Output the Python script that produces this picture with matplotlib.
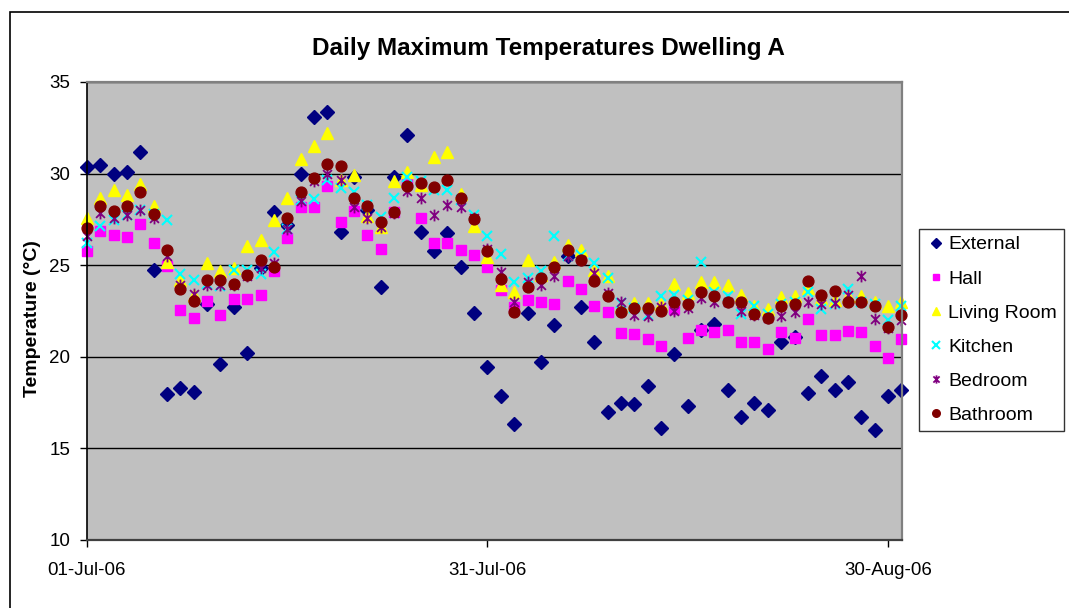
import matplotlib
matplotlib.use("Agg")
import numpy as np
import pandas as pd
from matplotlib import pyplot as plt
from matplotlib.path import Path
from matplotlib.patches import Rectangle

plt.rcParams['font.family'] = ['Liberation Sans', 'DejaVu Sans']

# daily maxima, 1 Jul - 31 Aug 2006 (deg C)
days = pd.date_range("2006-07-01", "2006-08-31", freq="D")

external = [30.35, 30.45, 30.0, 30.1, 31.2, 24.75, 17.95, 18.3, 18.1, 22.9,
            19.6, 22.7, 20.2, 24.85, 27.9, 27.2, 30.0, 33.1, 33.35, 26.8,
            29.8, 28.0, 23.8, 29.8, 32.1, 26.8, 25.8, 26.75, 24.9, 22.4,
            19.45, 17.85, 16.35, 22.4, 19.7, 21.75, 25.5, 22.7, 20.8, 17.0,
            17.5, 17.45, 18.4, 16.1, 20.15, 17.3, 21.45, 21.8, 18.2, 16.7,
            17.5, 17.1, 20.8, 21.1, 18.0, 18.95, 18.2, 18.65, 16.7, 16.0,
            17.85, 18.2]
hall = [25.8, 26.85, 26.65, 26.55, 27.25, 26.2, 24.95, 22.55, 22.1, 23.05,
        22.3, 23.15, 23.15, 23.4, 24.7, 26.5, 28.15, 28.15, 29.3, 27.35,
        27.95, 26.65, 25.9, 27.9, 29.5, 27.6, 26.2, 26.2, 25.85, 25.55,
        24.9, 23.65, 22.7, 23.1, 23.0, 22.9, 24.15, 23.7, 22.8, 22.45,
        21.3, 21.25, 20.95, 20.6, 22.6, 21.05, 21.45, 21.35, 21.45, 20.8,
        20.8, 20.4, 21.35, 21.05, 22.05, 21.2, 21.2, 21.4, 21.35, 20.6,
        19.95, 20.95]
living_room = [27.6, 28.65, 29.1, 28.85, 29.45, 28.25, 25.2, 24.2, 23.4, 25.1,
               24.7, 24.85, 26.05, 26.35, 27.45, 28.65, 30.8, 31.5, 32.2, 29.65,
               29.95, 27.7, 27.1, 29.6, 30.1, 29.4, 30.9, 31.2, 28.9, 27.15,
               25.45, 23.9, 23.55, 25.3, 24.45, 25.2, 26.1, 25.85, 24.75, 24.4,
               22.8, 22.95, 22.95, 22.9, 24.0, 23.5, 24.1, 24.1, 23.9, 23.35,
               22.75, 22.6, 23.25, 23.3, 23.75, 23.2, 23.1, 23.3, 23.3, 23.0,
               22.8, 23.0]
kitchen = [26.2, 27.15, 27.45, 27.75, 28.0, 27.8, 27.45, 24.5, 24.2, 24.0,
           23.85, 24.75, 24.75, 24.5, 25.7, 27.0, 28.55, 28.6, 29.65, 29.2,
           29.0, 28.3, 27.65, 28.65, 29.8, 29.6, 29.1, 29.1, 28.55, 27.75,
           26.6, 25.6, 24.1, 24.3, 24.7, 26.6, 25.5, 25.55, 25.1, 24.3,
           22.95, 22.65, 22.3, 23.3, 23.35, 23.1, 25.15, 23.55, 23.3, 22.35,
           22.75, 22.35, 22.9, 23.0, 23.55, 22.6, 22.9, 23.7, 23.0, 22.9,
           22.0, 22.75]
bedroom = [26.6, 27.85, 27.6, 27.75, 28.0, 27.6, 25.5, 23.9, 23.45, 23.9,
           23.9, 23.9, 24.4, 24.85, 25.1, 27.0, 28.5, 29.6, 30.0, 29.65,
           28.2, 27.55, 27.1, 27.85, 29.05, 28.65, 27.75, 28.3, 28.2, 27.55,
           25.9, 24.65, 23.0, 24.1, 23.9, 24.4, 25.5, 25.3, 24.55, 23.5,
           23.0, 22.3, 22.2, 22.7, 22.5, 22.65, 23.2, 23.0, 23.0, 22.5,
           22.3, 22.1, 22.2, 22.45, 23.0, 22.9, 22.95, 23.4, 24.4, 22.05,
           21.55, 22.0]
bathroom = [27.05, 28.25, 27.95, 28.25, 29.0, 27.8, 25.85, 23.7, 23.05, 24.2,
            24.2, 23.95, 24.45, 25.3, 24.9, 27.6, 29.0, 29.75, 30.5, 30.4,
            28.65, 28.25, 27.35, 27.9, 29.35, 29.5, 29.25, 29.65, 28.65, 27.5,
            25.75, 24.25, 22.45, 23.8, 24.3, 24.9, 25.85, 25.3, 24.15, 23.3,
            22.45, 22.65, 22.65, 22.5, 23.0, 22.9, 23.55, 23.3, 23.0, 23.0,
            22.35, 22.1, 22.8, 22.9, 24.15, 23.4, 23.6, 23.0, 23.0, 22.75,
            21.6, 22.3]

tick_days = ["2006-07-01", "2006-07-31", "2006-08-30"]
tick_labels = ["01-Jul-06", "31-Jul-06", "30-Aug-06"]
y_ticks = [10, 15, 20, 25, 30, 35]

# Excel-style star: an X with a vertical bar through it
star = Path([(0, -1), (0, 1), (-0.75, -0.75), (0.75, 0.75), (-0.75, 0.75), (0.75, -0.75)],
            [Path.MOVETO, Path.LINETO] * 3)

series = [
    ("External", external, dict(marker="D", color="#000080", ms=7.0)),
    ("Hall", hall, dict(marker="s", color="#FF00FF", ms=6.6)),
    ("Living Room", living_room, dict(marker="^", color="#FFFF00", ms=8.0)),
    ("Kitchen", kitchen, dict(marker="x", color="#00FFFF", ms=7.5, mew=1.5)),
    ("Bedroom", bedroom, dict(marker=star, color="#800080", ms=8.5, mew=1.3)),
    ("Bathroom", bathroom, dict(marker="o", color="#800000", ms=7.8)),
]

W, H = 1069, 608
fig = plt.figure(figsize=(W / 100, H / 100), dpi=100)
ax = fig.add_axes([87 / W, 1 - 540 / H, (902 - 87) / W, (540 - 82) / H])
ax.set_facecolor("#C0C0C0")

for name, vals, st in series:
    ax.plot(days, vals, linestyle="none", label=name, clip_on=False,
            markeredgecolor=st["color"], markerfacecolor=st["color"],
            marker=st["marker"], ms=st["ms"], mew=st.get("mew", 1.0))

start = pd.Timestamp("2006-07-01")
ax.set_xlim(start, start + pd.Timedelta(days=61.05))
ax.set_ylim(10, 35)
ax.set_yticks(y_ticks)
ax.set_yticklabels([str(v) for v in y_ticks], fontsize=13.5)
ax.set_xticks(pd.to_datetime(tick_days))
ax.set_xticklabels(tick_labels, fontsize=13.5)
ax.yaxis.grid(True, color="black", lw=1.0)
ax.set_axisbelow(True)
ax.tick_params(length=5, width=1, color="black", direction="out")
ax.tick_params(axis="x", pad=11)
ax.tick_params(axis="y", pad=7)

for side in ("top", "right"):
    ax.spines[side].set_color("#808080")
    ax.spines[side].set_linewidth(1.6)
ax.spines["left"].set_color("black")
ax.spines["left"].set_linewidth(1.2)
ax.spines["bottom"].set_color("#404040")
ax.spines["bottom"].set_linewidth(1.6)

fig.text(33 / W, 1 - 319 / H, "Temperature (°C)", rotation=90,
         ha="center", va="center", fontsize=14, fontweight="bold")

fig.text(548 / W, 1 - 48 / H, "Daily Maximum Temperatures Dwelling A",
         ha="center", va="center", fontsize=17.5, fontweight="bold")

leg = fig.legend(loc="upper left", bbox_to_anchor=(919 / W, 1 - 229 / H),
                 fontsize=14, frameon=True, fancybox=False, edgecolor="black",
                 borderpad=0.35, labelspacing=0.85, handletextpad=0.15,
                 handlelength=1.0, markerscale=0.7, borderaxespad=0)
leg.get_frame().set_linewidth(1.0)

# chart outline (left and top edges fall inside the image)
fig.patches.append(Rectangle((10 / W, -0.1), 1.2, 1.1 - 12 / H, transform=fig.transFigure,
                             fill=False, edgecolor="black", lw=1.2))

fig.savefig("out.png", dpi=100)
